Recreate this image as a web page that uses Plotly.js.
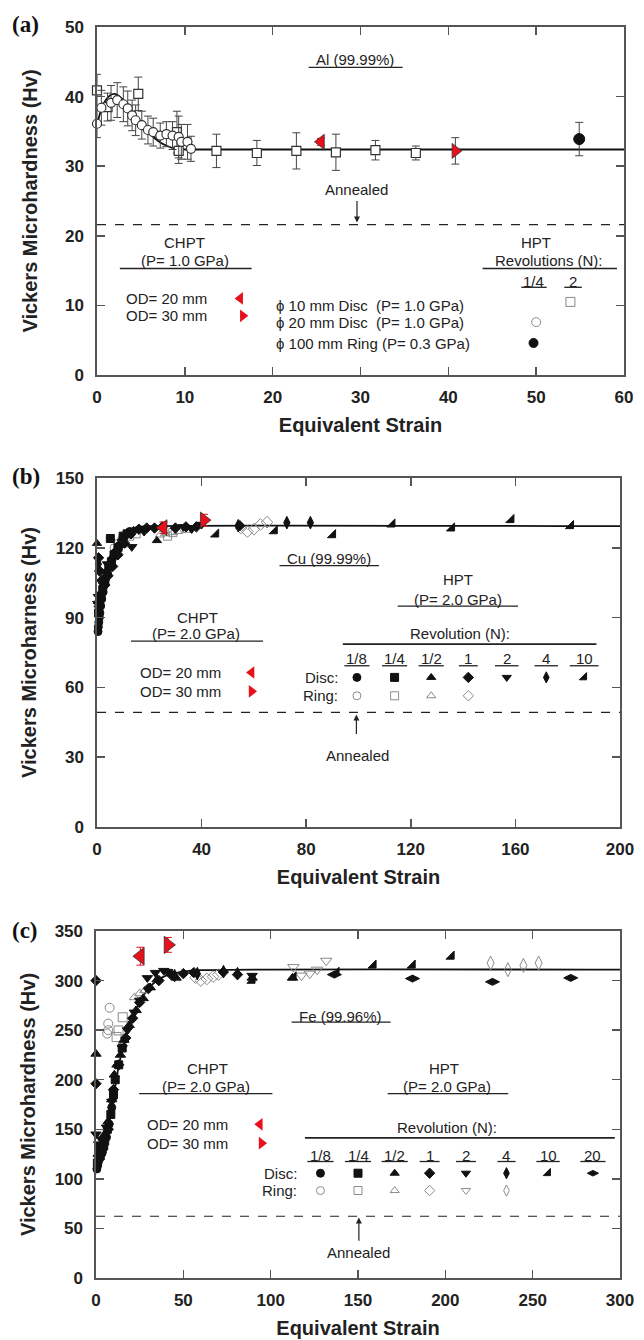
<!DOCTYPE html>
<html><head><meta charset="utf-8">
<script src="https://cdn.plot.ly/plotly-3.0.1.min.js"></script>
<style>html,body{margin:0;padding:0;background:#fff}#chart{width:644px;height:1340px}</style>
</head><body><div id="chart"></div>
<script>
// ---------------- Panel (a): Al (99.99%) ----------------
const alDisc20X = [0, 0.5, 1.6, 2.3, 3.0, 3.5, 4.0, 4.4, 5.1, 5.8, 6.4, 7.2, 7.9, 8.6, 9.3, 9.6, 10.3, 10.7];
const alDisc20Y = [36.1, 38.4, 39.1, 39.5, 38.9, 38.3, 37.3, 36.6, 35.9, 35.2, 34.9, 34.4, 34.6, 34.4, 34.2, 33.5, 33.5, 32.5];
const alDisc20E = [2.0, 2.5, 2.5, 2.5, 2.5, 2.5, 2.2, 2.2, 2.0, 2.0, 2.0, 1.8, 1.8, 2.0, 3.0, 2.5, 2.5, 1.8];
const alDisc10X = [0, 1.2, 4.7, 9.1, 9.3, 13.6, 18.2, 22.7, 27.2, 31.7, 36.3];
const alDisc10Y = [40.9, 38.5, 40.4, 34.9, 32.2, 32.2, 31.9, 32.2, 32.0, 32.3, 31.9];
const alDisc10E = [2.3, 2.0, 2.4, 3.0, 1.8, 2.4, 1.8, 2.6, 2.6, 1.4, 1.0];
const alRingX = [54.9], alRingY = [33.9], alRingE = [2.4];
const alOD20X = [25.5], alOD20Y = [33.5], alOD20E = [0.5];
const alOD30X = [40.8], alOD30Y = [32.2], alOD30E = [1.9];
const alFitX = [0, 0.5, 1, 1.5, 2, 2.5, 3, 3.5, 4, 5, 6, 7, 8, 9, 10, 60];
const alFitY = [36, 38.2, 39.5, 40.2, 40.4, 40.1, 39.5, 38.7, 37.8, 36.1, 34.7, 33.6, 32.9, 32.5, 32.4, 32.4];
const alAnnealed = 21.6;

// ---------------- Panel (b): Cu (99.99%) ----------------
const cuD18X = [0.4, 0.5, 0.7, 0.9, 1.1, 1.4, 1.8, 2.3, 2.8, 3.4, 4.0, 4.8, 5.8, 7.0, 8.5, 10.5, 12.5];
const cuD18Y = [84, 86, 88, 90, 92, 95, 98, 101, 104, 107, 109, 112, 115, 118, 121, 125, 127];
const cuD14X = [0.6, 1.0, 1.5, 2.2, 3.0, 3.8, 4.5, 5.5, 6.5, 5.1, 8.0, 10.0, 11.5];
const cuD14Y = [92, 96, 99, 102, 106, 109, 112, 114, 117, 124, 120, 125, 126];
const cuD12X = [0, 0.3, 1.2, 2.5, 3.5, 5.0, 6.5, 8.0, 9.5, 11.0, 14.0, 22.9];
const cuD12Y = [121.9, 97, 100, 104, 108, 113, 117, 120, 124, 126, 127.5, 123.1];
const cuD1X = [0.6, 1.0, 1.8, 3.0, 4.2, 6.0, 8.0, 10.5, 13, 16, 19, 22, 25, 30, 34, 38, 54.6];
const cuD1Y = [115.7, 110, 106, 104, 108, 112, 117, 122, 126, 128, 128.5, 128.5, 129, 128.5, 129, 129, 129.5];
const cuD2X = [0.3, 0.5, 0.8, 1.5, 2.5, 4.0, 13.3, 18, 33, 36.2, 40];
const cuD2Y = [96, 99, 94, 100, 104, 113, 120.4, 127, 129, 128.1, 130];
const cuD4X = [0.5, 54, 72.6, 81.6];
const cuD4Y = [113, 129.5, 130.8, 130.8];
const cuD10X = [45.5, 67.9, 90.2, 112.9, 135.7, 158.4, 181.2];
const cuD10Y = [125.8, 127.2, 125.5, 130.1, 128.4, 132, 129.4];
const cuR18X = [6.5, 8.0, 9.5], cuR18Y = [120, 122, 124];
const cuR14X = [10, 12.5, 15, 27, 29], cuR14Y = [122, 125, 126, 125, 126.5];
const cuR12X = [24, 26, 29, 31, 34], cuR12Y = [125.5, 126, 126.5, 127, 127.5];
const cuR1X = [55, 57.5, 60, 62.5, 65], cuR1Y = [128.5, 127, 128, 130, 131];
const cuOD20X = [25.4], cuOD20Y = [128.6], cuOD20E = [2.5];
const cuOD30X = [40.9], cuOD30Y = [131.9], cuOD30E = [2.5];
const cuFitX = [0, 0.5, 1, 2, 3, 4, 5, 6, 8, 10, 12, 15, 20, 200];
const cuFitY = [84, 89, 93, 100, 106, 110.5, 114, 117, 122, 125.5, 127.5, 128.8, 129.3, 129.3];
const cuAnnealed = 49.3;

// ---------------- Panel (c): Fe (99.96%) ----------------
const feD18X = [0.5, 1.0, 1.5, 2.5, 3.5, 4.5, 6.0, 7.5, 9.0];
const feD18Y = [110, 114, 118, 122, 126, 132, 142, 155, 172];
const feD14X = [0.8, 1.5, 2.5, 3.5, 5, 6.5, 8.5, 10, 11, 13, 15];
const feD14Y = [116, 122, 128, 130, 138, 150, 165, 185, 200, 215, 232];
const feD12X = [0, 1.2, 3, 5, 7, 9, 10.5, 12, 14, 16, 19, 23, 27, 31, 35, 45.9, 89.4, 112.5];
const feD12Y = [226, 125, 135, 145, 158, 180, 205, 215, 225, 240, 255, 270, 282, 293, 301, 302.7, 302.7, 302.7];
const feD1X = [0, 0, 2, 4, 7, 10, 13, 17, 21, 25, 30, 36, 43, 50, 56, 72.9, 81];
const feD1Y = [300, 196, 120, 130, 150, 190, 215, 242, 262, 278, 292, 300, 306, 307, 308, 308.6, 306];
const feD2X = [0, 1.5, 3, 6, 9, 15, 18, 22, 25, 29.4, 34, 38.8, 41, 89.4];
const feD2Y = [145, 135, 140, 152, 178, 232, 250, 268, 280, 302.7, 308, 310, 309, 305];
const feD4X = [45, 58, 73, 81], feD4Y = [305, 307, 309, 307];
const feD10X = [89.5, 113, 137.6, 158.8, 181.2, 203.5];
const feD10Y = [300, 303.5, 308, 315.3, 315.3, 324.3];
const feD20X = [136.5, 181.2, 227, 271.8], feD20Y = [306, 302, 298.7, 302.7];
const feR18X = [6.4, 7.0, 7.0, 7.8], feR18Y = [246.5, 250, 256.6, 272.6];
const feR14X = [11.8, 12.9, 15.3], feR14Y = [243, 249.7, 263];
const feR12X = [22, 25, 28, 31], feR12Y = [283, 287, 290, 293];
const feR1X = [57, 60, 63.5, 67, 70], feR1Y = [303, 300, 301.7, 304, 306];
const feR2X = [113, 117.6, 122.4, 126.6, 131.8], feR2Y = [313.6, 305, 307, 311, 320];
const feR4X = [225.9, 235.8, 244.7, 253.4], feR4Y = [317.7, 311, 315.3, 317.7];
const feOD20X = [25.4], feOD20Y = [324.6], feOD20E = [9];
const feOD30X = [41.2], feOD30Y = [336], feOD30E = [7.5];
const feFitX = [0, 2, 4, 6, 8, 10, 12, 14, 16, 18, 20, 23, 26, 30, 35, 40, 50, 60, 300];
const feFitY = [110, 118, 128, 142, 160, 182, 204, 222, 236, 248, 258, 270, 281, 292, 300, 305, 309, 310.5, 311];
const feAnnealed = 62.3;

// Legend-table labels
const cuRevLabels = ['1/8', '1/4', '1/2', '1', '2', '4', '10'];
const feRevLabels = ['1/8', '1/4', '1/2', '1', '2', '4', '10', '20'];
const discSymbols = ['circle', 'square', 'triangle-up', 'diamond', 'triangle-down', 'diamond-tall', 'triangle-se', 'diamond-wide'];
const ringSymbols = ['circle-open', 'square-open', 'triangle-up-open', 'diamond-open', 'triangle-down-open', 'diamond-tall-open'];

// ---------------- styling helpers ----------------
const FONT = 'Liberation Sans, Arial, sans-serif';
const INK = '#222';
const AXC = '#555';
const GRAY = '#8a8a8a';
const RED = '#e8101a';

function mk(ax, x, y, symbol, o) {
  o = o || {};
  const col = o.color || '#111';
  const t = {
    type: 'scatter', mode: 'markers', x: x, y: y, xaxis: 'x' + ax, yaxis: 'y' + ax,
    cliponaxis: false, hoverinfo: 'skip',
    marker: { symbol: symbol, size: o.size || 8, color: col,
      line: { color: o.lc || col, width: o.lw == null ? 1 : o.lw } }
  };
  if (o.err) t.error_y = { type: 'data', array: o.err, visible: true, color: o.ec || '#444', thickness: 1, width: o.ew || 4 };
  return t;
}
function fit(ax, x, y) {
  return { type: 'scatter', mode: 'lines', x: x, y: y, xaxis: 'x' + ax, yaxis: 'y' + ax,
    line: { color: '#111', width: 1.8, shape: 'spline', smoothing: 0.6 }, hoverinfo: 'skip', cliponaxis: true };
}
function T(ax, x, y, text, xanchor, size) {
  return { xref: 'x' + ax, yref: 'y' + ax, x: x, y: y, text: text, showarrow: false,
    xanchor: xanchor || 'center', yanchor: 'middle', font: { family: FONT, size: size || 15, color: INK } };
}
function L(ax, x0, x1, y, dash, w) {
  return { type: 'line', xref: 'x' + ax, yref: 'y' + ax, x0: x0, x1: x1, y0: y, y1: y,
    line: { color: INK, width: w || 1.3, dash: dash || 'solid' } };
}
function arrow(ax, x, yTip, yTail) {
  return { xref: 'x' + ax, yref: 'y' + ax, axref: 'x' + ax, ayref: 'y' + ax, x: x, y: yTip, ax: x, ay: yTail,
    text: '', showarrow: true, arrowhead: 2, arrowsize: 1, arrowwidth: 1.2, arrowcolor: INK, standoff: 0 };
}
function keyTrace(ax, xs, y, symbols, o) {
  // legend-table key markers (one per column)
  return {
    type: 'scatter', mode: 'markers', x: xs, y: xs.map(() => y), xaxis: 'x' + ax, yaxis: 'y' + ax,
    hoverinfo: 'skip', cliponaxis: false,
    marker: { symbol: symbols, size: o.size || 8, color: o.color, line: { color: o.color, width: o.lw == null ? 1 : o.lw } }
  };
}
function axis(range, dtick, domain, anchor, isX, titleText, standoff) {
  return {
    range: range, dtick: dtick, tick0: 0, domain: domain, anchor: anchor,
    showgrid: false, zeroline: false, showline: true, mirror: 'ticks',
    linecolor: AXC, linewidth: 1.6, ticks: 'inside', ticklen: 8, tickwidth: 1.5, tickcolor: AXC,
    ticklabelstandoff: isX ? 6 : 8,
    tickfont: { family: FONT, size: 17, weight: 'bold', color: INK },
    title: { text: titleText, font: { family: FONT, size: 20, weight: 'bold', color: INK }, standoff: standoff },
    fixedrange: true
  };
}
const W = 644, H = 1340;
const px = v => v / W, py = v => 1 - v / H;

// ---------------- traces ----------------
const whiteOpen = { color: '#fff', lc: '#333', lw: 1.2, size: 9 };
const traces = [
  // (a)
  fit('', alFitX, alFitY),
  mk('', alDisc10X, alDisc10Y, 'square', Object.assign({ err: alDisc10E }, whiteOpen)),
  mk('', alDisc20X, alDisc20Y, 'circle', Object.assign({ err: alDisc20E }, whiteOpen)),
  mk('', alRingX, alRingY, 'circle', { err: alRingE, size: 11 }),
  mk('', alOD20X, alOD20Y, 'triangle-left', { color: RED, lc: '#333', lw: 0.8, size: 13, err: alOD20E, ec: RED }),
  mk('', alOD30X, alOD30Y, 'triangle-right', { color: RED, lc: '#333', lw: 0.8, size: 13, err: alOD30E }),
  // (b)
  fit('2', cuFitX, cuFitY),
  mk('2', cuR18X, cuR18Y, 'circle-open', { color: GRAY, size: 8 }),
  mk('2', cuR14X, cuR14Y, 'square-open', { color: GRAY, size: 8 }),
  mk('2', cuR12X, cuR12Y, 'triangle-up-open', { color: GRAY, size: 8 }),
  mk('2', cuR1X, cuR1Y, 'diamond-open', { color: GRAY, size: 9 }),
  mk('2', cuD18X, cuD18Y, 'circle', { size: 8 }),
  mk('2', cuD14X, cuD14Y, 'square', { size: 8 }),
  mk('2', cuD12X, cuD12Y, 'triangle-up', { size: 8 }),
  mk('2', cuD1X, cuD1Y, 'diamond', { size: 8 }),
  mk('2', cuD2X, cuD2Y, 'triangle-down', { size: 9 }),
  mk('2', cuD4X, cuD4Y, 'diamond-tall', { size: 9 }),
  mk('2', cuD10X, cuD10Y, 'triangle-se', { size: 9 }),
  mk('2', cuOD20X, cuOD20Y, 'triangle-left', { color: RED, lc: '#333', lw: 0.8, size: 14, err: cuOD20E, ec: RED }),
  mk('2', cuOD30X, cuOD30Y, 'triangle-right', { color: RED, lc: '#333', lw: 0.8, size: 14, err: cuOD30E, ec: RED }),
  // (c)
  fit('3', feFitX, feFitY),
  mk('3', feR18X, feR18Y, 'circle-open', { color: GRAY, size: 9 }),
  mk('3', feR14X, feR14Y, 'square-open', { color: GRAY, size: 9 }),
  mk('3', feR12X, feR12Y, 'triangle-up-open', { color: GRAY, size: 9 }),
  mk('3', feR1X, feR1Y, 'diamond-open', { color: GRAY, size: 9 }),
  mk('3', feR2X, feR2Y, 'triangle-down-open', { color: GRAY, size: 10 }),
  mk('3', feR4X, feR4Y, 'diamond-tall-open', { color: GRAY, size: 10 }),
  mk('3', feD18X, feD18Y, 'circle', { size: 8 }),
  mk('3', feD14X, feD14Y, 'square', { size: 8 }),
  mk('3', feD12X, feD12Y, 'triangle-up', { size: 9 }),
  mk('3', feD1X, feD1Y, 'diamond', { size: 8 }),
  mk('3', feD2X, feD2Y, 'triangle-down', { size: 9 }),
  mk('3', feD4X, feD4Y, 'diamond-tall', { size: 9 }),
  mk('3', feD10X, feD10Y, 'triangle-se', { size: 9 }),
  mk('3', feD20X, feD20Y, 'diamond-wide', { size: 10 }),
  mk('3', feOD20X, feOD20Y, 'triangle-left', { color: RED, lc: '#333', lw: 0.8, size: 15, err: feOD20E, ec: RED }),
  mk('3', feOD30X, feOD30Y, 'triangle-right', { color: RED, lc: '#333', lw: 0.8, size: 15, err: feOD30E, ec: RED })
];

// ---------------- legend tables (layout positions) ----------------
const cuColX = [99.4, 113.8, 127.8, 142, 156.7, 171.8, 186.3];
const cuColHalf = [4.8, 4.8, 4.8, 3.6, 4.5, 4.5, 5.5];
const feColX = [128.5, 150, 171, 191, 211.8, 235, 258.8, 284.5];
const feColHalf = [7.5, 7.5, 7.5, 5.7, 5.7, 5.2, 6.7, 7.2];

// key markers
traces.push(
  keyTrace('', [16.3], 11.0, ['triangle-left'], { color: RED, size: 11, lw: 0 }),
  keyTrace('', [16.6], 8.5, ['triangle-right'], { color: RED, size: 11, lw: 0 }),
  keyTrace('', [53.9], 10.5, ['square-open'], { color: GRAY, size: 9 }),
  keyTrace('', [50.0], 7.6, ['circle-open'], { color: GRAY, size: 9 }),
  keyTrace('', [49.7], 4.6, ['circle'], { color: '#111', size: 9 }),
  keyTrace('2', [59.1], 66.4, ['triangle-left'], { color: RED, size: 11, lw: 0 }),
  keyTrace('2', [59.1], 58.3, ['triangle-right'], { color: RED, size: 11, lw: 0 }),
  keyTrace('2', cuColX, 64.3, discSymbols.slice(0, 7), { color: '#111', size: 8 }),
  keyTrace('2', cuColX.slice(0, 4), 56.4, ringSymbols.slice(0, 4), { color: GRAY, size: 8 }),
  keyTrace('3', [93.8], 155, ['triangle-left'], { color: RED, size: 11, lw: 0 }),
  keyTrace('3', [94.8], 136, ['triangle-right'], { color: RED, size: 11, lw: 0 }),
  keyTrace('3', feColX, 105.7, discSymbols, { color: '#111', size: 8 }),
  keyTrace('3', feColX.slice(0, 6), 88.2, ringSymbols, { color: GRAY, size: 8 })
);

const NB = '\u00a0';
const annotations = [
  // panel letters
  { xref: 'paper', yref: 'paper', x: px(10), y: py(25), xanchor: 'left', yanchor: 'middle', showarrow: false,
    text: '<b>(a)</b>', font: { family: 'Liberation Serif, Times New Roman, serif', size: 23, color: '#111' } },
  { xref: 'paper', yref: 'paper', x: px(10), y: py(477), xanchor: 'left', yanchor: 'middle', showarrow: false,
    text: '<b>(b)</b>', font: { family: 'Liberation Serif, Times New Roman, serif', size: 23, color: '#111' } },
  { xref: 'paper', yref: 'paper', x: px(10), y: py(930), xanchor: 'left', yanchor: 'middle', showarrow: false,
    text: '<b>(c)</b>', font: { family: 'Liberation Serif, Times New Roman, serif', size: 23, color: '#111' } },
  // (a)
  T('', 29.4, 45.3, 'Al (99.99%)'),
  T('', 29.6, 26.7, 'Annealed'),
  arrow('', 29.6, 21.9, 25.2),
  T('', 10, 19.0, 'CHPT'),
  T('', 10, 16.4, '(P= 1.0 GPa)'),
  T('', 3.1, 11.0, 'OD= 20 mm', 'left'),
  T('', 3.1, 8.5, 'OD= 30 mm', 'left'),
  T('', 20.2, 10.0, 'ϕ 10 mm Disc' + NB + NB + '(P= 1.0 GPa)', 'left'),
  T('', 20.2, 7.5, 'ϕ 20 mm Disc' + NB + NB + '(P= 1.0 GPa)', 'left'),
  T('', 20.2, 4.5, 'ϕ 100 mm Ring (P= 0.3 GPa)', 'left'),
  T('', 50, 19.1, 'HPT'),
  T('', 51.5, 16.4, 'Revolutions (N):'),
  T('', 49.7, 13.5, '1/4'),
  T('', 54.2, 13.5, '2'),
  // (b)
  T('2', 88.6, 115.4, 'Cu (99.99%)'),
  T('2', 138, 106.2, 'HPT'),
  T('2', 138, 97.8, '(P= 2.0 GPa)'),
  T('2', 38.4, 90.0, 'CHPT'),
  T('2', 38, 83.0, '(P= 2.0 GPa)'),
  T('2', 138.8, 83.3, 'Revolution (N):'),
  T('2', 15.8, 66.4, 'OD= 20 mm', 'left'),
  T('2', 15.8, 58.3, 'OD= 30 mm', 'left'),
  T('2', 93, 64.3, 'Disc:', 'right'),
  T('2', 93, 56.4, 'Ring:', 'right'),
  T('2', 99.7, 30.7, 'Annealed'),
  arrow('2', 99.2, 48.3, 39.3),
  // (c)
  T('3', 140, 264, 'Fe (99.96%)'),
  T('3', 63.9, 211.5, 'CHPT'),
  T('3', 62.9, 193.5, '(P= 2.0 GPa)'),
  T('3', 27.8, 155, 'OD= 20 mm', 'left'),
  T('3', 27.8, 136, 'OD= 30 mm', 'left'),
  T('3', 199, 211.5, 'HPT'),
  T('3', 201, 193.5, '(P= 2.0 GPa)'),
  T('3', 201, 152, 'Revolution (N):'),
  T('3', 116.5, 105.7, 'Disc:', 'right'),
  T('3', 116.5, 88.2, 'Ring:', 'right'),
  T('3', 150.5, 25.4, 'Annealed'),
  arrow('3', 150.5, 61, 36)
];
cuRevLabels.forEach((s, i) => annotations.push(T('2', cuColX[i], 72.6, s)));
feRevLabels.forEach((s, i) => annotations.push(T('3', feColX[i], 123.8, s)));

const shapes = [
  // (a)
  L('', 0, 60, alAnnealed, 'dash', 1.2),
  L('', 24.1, 34.8, 44.2),
  L('', 2.6, 17.6, 15.3),
  L('', 43.9, 59.2, 15.3),
  L('', 48.3, 51.2, 12.6),
  L('', 53.2, 55.2, 12.6),
  // (b)
  L('2', 0, 200, cuAnnealed, 'dash', 1.2),
  L('2', 69.8, 107.8, 112.3),
  L('2', 115, 161, 94.9),
  L('2', 13, 63.5, 79.9),
  L('2', 94, 191, 78.6, 'solid', 1.8),
  // (c)
  L('3', 0, 300, feAnnealed, 'dash', 1.2),
  L('3', 112, 168.7, 258),
  L('3', 24.7, 101, 186),
  L('3', 167, 236, 186),
  L('3', 119.6, 297, 141.4, 'solid', 1.8)
];
cuColX.forEach((x, i) => shapes.push(L('2', x - cuColHalf[i], x + cuColHalf[i], 69.3)));
feColX.forEach((x, i) => shapes.push(L('3', x - feColHalf[i], x + feColHalf[i], 117.5)));

const layout = {
  width: W, height: H, margin: { l: 0, r: 0, t: 0, b: 0 },
  paper_bgcolor: '#fff', plot_bgcolor: '#fff', showlegend: false,
  font: { family: FONT, color: INK },
  xaxis: axis([0, 60], 10, [px(97), px(624)], 'y', true, 'Equivalent Strain', 12),
  yaxis: axis([0, 50], 10, [py(375), py(27)], 'x', false, 'Vickers Microhardness (Hv)', 22),
  xaxis2: axis([0, 200], 40, [px(97), px(620)], 'y2', true, 'Equivalent Strain', 12),
  yaxis2: axis([0, 150], 30, [py(827), py(478)], 'x2', false, 'Vickers Microharness (Hv)', 13),
  xaxis3: axis([0, 300], 50, [px(96), px(620)], 'y3', true, 'Equivalent Strain', 12),
  yaxis3: axis([0, 350], 50, [py(1278), py(931)], 'x3', false, 'Vickers Microhardness (Hv)', 13),
  annotations: annotations,
  shapes: shapes
};

Plotly.newPlot('chart', traces, layout, { displayModeBar: false, staticPlot: true });
</script></body></html>
